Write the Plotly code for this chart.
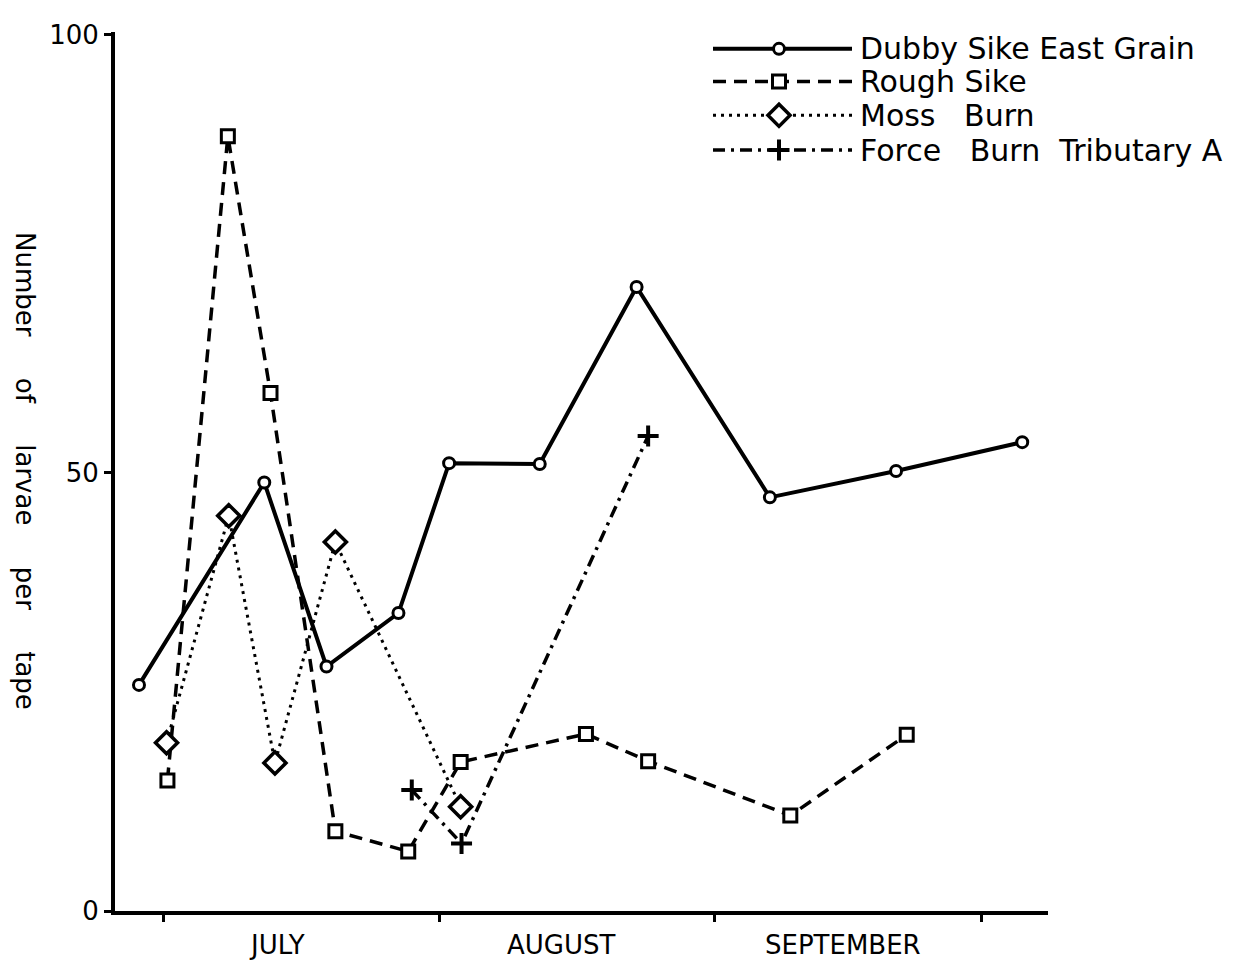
import plotly.graph_objects as go

# x = days since 1 July, y = number of larvae per tape
dubby_x = [-2.8, 11.3, 18.3, 26.4, 32.1, 42.3, 53.2, 68.2, 82.4, 96.6]
dubby_y = [25.8, 48.9, 27.9, 34.0, 51.1, 51.0, 71.2, 47.2, 50.2, 53.5]

rough_x = [0.4, 7.2, 12.0, 19.3, 27.5, 33.4, 47.5, 54.5, 70.5, 83.6]
rough_y = [14.9, 88.4, 59.1, 9.1, 6.8, 17.0, 20.2, 17.1, 10.9, 20.1]

moss_x = [0.3, 7.3, 12.5, 19.3, 33.4]
moss_y = [19.2, 45.1, 16.9, 42.1, 11.9]

force_x = [27.9, 33.5, 54.5]
force_y = [13.8, 7.7, 54.2]

NB = "\u00a0"
series_names = ["Dubby Sike East Grain", "Rough Sike", "Moss" + NB * 2 + " Burn",
                "Force" + NB * 2 + " Burn" + NB + " Tributary A"]

month_bounds = [0, 31, 62, 92]
month_names = ["JULY", "AUGUST", "SEPTEMBER"]
month_label_pos = [12.7, 44.7, 76.4]

y_ticks = [0, 50, 100]

FONT = "DejaVu Sans"
styles = [
    dict(dash="solid", width=4, symbol="circle", size=11, mlw=3),
    dict(dash="13px,8px", width=3.5, symbol="square", size=13, mlw=3),
    dict(dash="3px,5px", width=3, symbol="diamond", size=17, mlw=3.5),
    dict(dash="12px,6px,3px,6px", width=3.5, symbol="cross-thin", size=15, mlw=4),
]
data = [(dubby_x, dubby_y), (rough_x, rough_y), (moss_x, moss_y), (force_x, force_y)]

fig = go.Figure()
for (xs, ys), st, nm in zip(data, styles, series_names):
    fig.add_trace(go.Scatter(
        x=xs, y=ys, mode="lines+markers", name=nm, showlegend=False,
        line=dict(color="black", width=st["width"], dash=st["dash"]),
        marker=dict(symbol=st["symbol"], size=st["size"], color="white",
                    line=dict(color="black", width=st["mlw"])),
    ))

# custom legend drawn on an overlay axis measured in page pixels
leg_rows = [42, 75, 109, 144]
leg_x0, leg_xm, leg_x1, leg_tx = 713, 779, 852, 858
for row, st, nm in zip(leg_rows, styles, series_names):
    fig.add_trace(go.Scatter(
        x=[leg_x0, leg_x1], y=[row, row], mode="lines", xaxis="x2", yaxis="y2",
        showlegend=False, hoverinfo="skip",
        line=dict(color="black", width=st["width"], dash=st["dash"])))
    fig.add_trace(go.Scatter(
        x=[leg_xm], y=[row], mode="markers", xaxis="x2", yaxis="y2",
        showlegend=False, hoverinfo="skip",
        marker=dict(symbol=st["symbol"], size=st["size"], color="white",
                    line=dict(color="black", width=st["mlw"]))))
    fig.add_annotation(x=leg_tx, y=row, xref="x2", yref="y2", text=nm,
                       showarrow=False, xanchor="left", yanchor="middle",
                       font=dict(family=FONT, size=30, color="black"))

for pos, nm in zip(month_label_pos, month_names):
    fig.add_annotation(x=pos, y=0, xref="x", yref="paper", yshift=-34, text=nm,
                       showarrow=False, xanchor="center", yanchor="middle",
                       font=dict(family=FONT, size=26, color="black"))

gap = " " + NB * 4
fig.add_annotation(x=-0.096, y=0.5, xref="paper", yref="paper", textangle=90,
                   text=gap.join(["Number", "of", "larvae", "per", "tape"]),
                   showarrow=False, xanchor="center", yanchor="middle",
                   font=dict(family=FONT, size=26, color="black"))

# page body has an 8px margin; plot area targets x 115-1048, y 25-911 on screen
fig.update_layout(
    width=1220, height=955,
    margin=dict(l=107, r=180, t=17, b=52),
    paper_bgcolor="white", plot_bgcolor="white",
    showlegend=False,
    xaxis=dict(range=[-5.5, 99.5], tickvals=month_bounds, ticktext=["", "", "", ""],
               ticks="outside", ticklen=7, tickwidth=2.5, tickcolor="black",
               showline=True, linewidth=4, linecolor="black", showgrid=False,
               zeroline=False),
    yaxis=dict(range=[0, 100.3], tickvals=y_ticks, ticks="outside", ticklen=7,
               tickwidth=2.5, tickcolor="black", showline=True, linewidth=4,
               linecolor="black", showgrid=False, zeroline=False,
               tickfont=dict(family=FONT, size=26, color="black")),
    xaxis2=dict(overlaying="x", range=[115, 1048], visible=False),
    yaxis2=dict(overlaying="y", range=[911, 25], visible=False),
)

fig.write_html("out.html")
